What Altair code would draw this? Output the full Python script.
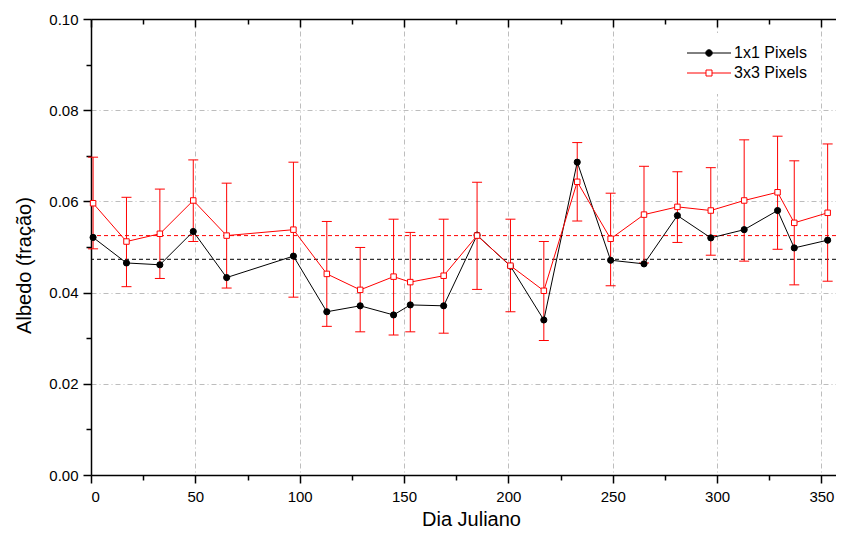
import altair as alt
import pandas as pd

# ---- data ----
days = [1, 17, 33, 49, 65, 97, 113, 129, 145, 153, 169, 185, 201, 217, 233,
        249, 265, 281, 297, 313, 329, 337, 353]
albedo_1x1 = [0.0521, 0.0465, 0.0461, 0.0534, 0.0433, 0.0480, 0.0358, 0.0371,
              0.0351, 0.0373, 0.0371, 0.0526, 0.0458, 0.0340, 0.0686, 0.0471,
              0.0463, 0.0569, 0.0520, 0.0538, 0.0580, 0.0498, 0.0515]
albedo_3x3 = [0.0596, 0.0512, 0.0529, 0.0602, 0.0525, 0.0538, 0.0441, 0.0406,
              0.0435, 0.0423, 0.0437, 0.0525, 0.0459, 0.0404, 0.0643, 0.0518,
              0.0571, 0.0588, 0.0580, 0.0602, 0.0620, 0.0553, 0.0575]
err_hi_3x3 = [0.0697, 0.0609, 0.0627, 0.0691, 0.0640, 0.0686, 0.0556, 0.0499,
              0.0561, 0.0532, 0.0561, 0.0642, 0.0561, 0.0512, 0.0729, 0.0618,
              0.0677, 0.0665, 0.0674, 0.0735, 0.0743, 0.0689, 0.0726]
err_lo_3x3 = [0.0496, 0.0413, 0.0431, 0.0512, 0.0410, 0.0390, 0.0326, 0.0314,
              0.0307, 0.0314, 0.0311, 0.0407, 0.0358, 0.0295, 0.0557, 0.0415,
              0.0465, 0.0510, 0.0482, 0.0469, 0.0495, 0.0417, 0.0425]
series_names = ["1x1 Pixels", "3x3 Pixels"]
mean_values = [0.0473, 0.0525]
x_ticks = list(range(0, 351, 25))
y_ticks = [0.0, 0.01, 0.02, 0.03, 0.04, 0.05, 0.06, 0.07, 0.08, 0.09, 0.10]

n = len(days)
df = pd.DataFrame({
    "day": days * 2,
    "albedo": albedo_1x1 + albedo_3x3,
    "series": [series_names[0]] * n + [series_names[1]] * n,
})
err = pd.DataFrame({"day": days, "lo": err_lo_3x3, "hi": err_hi_3x3})
means = pd.DataFrame({"series": series_names, "mean": mean_values})
legend_df = pd.DataFrame({"series": series_names})

FONT = "Liberation Sans"
W, H = 745, 456

xscale = alt.Scale(domain=[0, 357], nice=False, zero=False)
yscale = alt.Scale(domain=[0, 0.10], nice=False, zero=False)

x_minor = "datum.value % 50 != 0"
y_minor = "round(datum.value * 100) % 2 != 0"

x_axis = alt.Axis(
    values=x_ticks, title="Dia Juliano", format="d",
    labelExpr="datum.value % 50 == 0 ? datum.label : ''",
    tickSize={"condition": {"test": x_minor, "value": 5}, "value": 8},
    grid=True,
    gridOpacity={"condition": {"test": x_minor + " || datum.value == 0", "value": 0}, "value": 1},
    gridColor="#bdbdbd", gridDash=[5, 3, 1, 3], gridWidth=1,
    domainColor="black", domainWidth=1.5, tickColor="black", tickWidth=1.5,
    labelFont=FONT, labelFontSize=15, labelColor="black", labelPadding=6,
    titleFont=FONT, titleFontSize=20, titleFontWeight="normal", titleColor="black",
    titlePadding=5, titleX=380,
)
x_top = alt.Axis(
    values=x_ticks, title=None, labels=False, orient="bottom", offset=-H,
    tickSize={"condition": {"test": x_minor, "value": 5}, "value": 8},
    grid=False, domainColor="black", domainWidth=1.5, tickColor="black", tickWidth=1.5,
)
y_axis = alt.Axis(
    values=y_ticks, title="Albedo (fração)",
    labelExpr="round(datum.value * 100) % 2 == 0 ? format(datum.value, '.2f') : ''",
    tickSize={"condition": {"test": y_minor, "value": 5}, "value": 8},
    grid=True,
    gridOpacity={"condition": {"test": y_minor + " || datum.value == 0 || datum.value > 0.099", "value": 0}, "value": 1},
    gridColor="#bdbdbd", gridDash=[5, 3, 1, 3], gridWidth=1,
    domainColor="black", domainWidth=1.5, tickColor="black", tickWidth=1.5,
    labelFont=FONT, labelFontSize=15, labelColor="black", labelPadding=5,
    titleFont=FONT, titleFontSize=20, titleFontWeight="normal", titleColor="black",
    titlePadding=14, titleY=246,
)

# legend symbol paths: line with marker
P1 = "M-4.4,0H-0.65A0.65,0.65,0,1,1,0.65,0A0.65,0.65,0,1,1,-0.65,0M0.65,0H4.4"
P2 = "M-4.4,0H-0.6M-0.6,-0.6H0.6V0.6H-0.6ZM0.6,0H4.4"

legend = alt.Legend(
    title=None, orient="none", legendX=598, legendY=14, padding=12,
    fillColor="white", strokeColor="white",
    labelFont=FONT, labelFontSize=16, labelColor="black", labelOffset=17,
    rowPadding=4, symbolSize=100, symbolStrokeWidth=1, symbolOpacity=1,
)

color_scale = alt.Scale(domain=series_names, range=["black", "red"])

mean_rules = alt.Chart(means).mark_rule(strokeDash=[4, 3], strokeWidth=1).encode(
    y=alt.Y("mean:Q", scale=yscale, axis=y_axis),
    color=alt.Color("series:N", scale=color_scale, legend=None),
)

err_rule = alt.Chart(err).mark_rule(color="red", strokeWidth=1).encode(
    x=alt.X("day:Q", scale=xscale, axis=None),
    y=alt.Y("lo:Q", scale=yscale, axis=y_axis),
    y2="hi:Q",
)
err_lo = alt.Chart(err).mark_tick(color="red", orient="horizontal", size=10, thickness=1, opacity=1).encode(
    x=alt.X("day:Q", scale=xscale, axis=None),
    y=alt.Y("lo:Q", scale=yscale, axis=y_axis),
)
err_hi = alt.Chart(err).mark_tick(color="red", orient="horizontal", size=10, thickness=1, opacity=1).encode(
    x=alt.X("day:Q", scale=xscale, axis=None),
    y=alt.Y("hi:Q", scale=yscale, axis=y_axis),
)

lines = alt.Chart(df).mark_line(strokeWidth=1).encode(
    x=alt.X("day:Q", scale=xscale, axis=x_axis),
    y=alt.Y("albedo:Q", scale=yscale, axis=y_axis),
    color=alt.Color("series:N", scale=color_scale, legend=None),
    detail="series:N",
)

points = alt.Chart(df).mark_point(opacity=1, strokeWidth=1).encode(
    x=alt.X("day:Q", scale=xscale, axis=x_top),
    y=alt.Y("albedo:Q", scale=yscale, axis=y_axis),
    shape=alt.Shape("series:N", scale=alt.Scale(domain=series_names, range=["circle", "square"]), legend=None),
    fill=alt.Fill("series:N", scale=alt.Scale(domain=series_names, range=["black", "white"]), legend=None),
    stroke=alt.Stroke("series:N", scale=alt.Scale(domain=series_names, range=["black", "red"]), legend=None),
    size=alt.Size("series:N", scale=alt.Scale(domain=series_names, range=[38, 30]), legend=None),
)

# legend-only layer (no visible marks; its scales have explicit domains)
legend_layer = alt.Chart(legend_df).transform_filter("false").mark_point(
    opacity=1, strokeWidth=1, size=100
).encode(
    x=alt.X("series:N", axis=None),
    shape=alt.Shape("series:N", scale=alt.Scale(domain=series_names, range=[P1, P2]), legend=legend),
    fill=alt.Fill("series:N", scale=alt.Scale(domain=series_names, range=["black", "white"]), legend=legend),
    stroke=alt.Stroke("series:N", scale=alt.Scale(domain=series_names, range=["black", "red"]), legend=legend),
)

chart = alt.layer(mean_rules, err_rule, err_lo, err_hi, lines, points, legend_layer).resolve_axis(
    x="independent"
).resolve_scale(
    x="independent", shape="independent", fill="independent", stroke="independent"
).properties(
    width=W, height=H, autosize="none",
    padding={"left": 83, "top": 11, "right": 0, "bottom": 57},
).configure_view(stroke=None).configure(font=FONT).configure_axis(
    titleFontWeight="normal"
)

chart.save("out.html", embed_options={"renderer": "svg", "actions": False})
